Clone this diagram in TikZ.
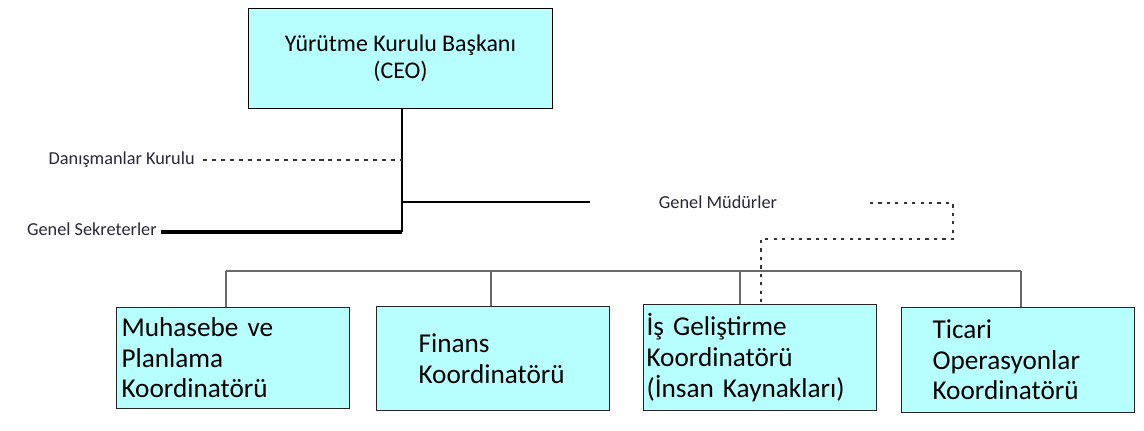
\documentclass[tikz,border=0pt]{standalone}
\usepackage{fontspec}
\setmainfont{Carlito}
\usetikzlibrary{positioning}
\definecolor{boxcyan}{RGB}{183,255,255}
\definecolor{busgray}{RGB}{105,105,105}
\definecolor{labeltext}{RGB}{40,40,55}
\tikzset{
  ceobox/.style={rectangle, draw=black, fill=boxcyan, line width=0.6pt,
    minimum width=6.08cm, minimum height=2cm, align=center,
    font=\fontsize{13.6}{15.5}\selectfont},
  coordbox/.style={rectangle, draw=black!85, fill=boxcyan, line width=0.6pt,
    align=left, inner ysep=0pt, anchor=north west,
    font=\fontsize{15.5}{17.4}\selectfont},
  sidelabel/.style={font=\fontsize{10.4}{12}\selectfont, text=labeltext, inner sep=0pt},
  trunk/.style={line width=0.6pt, color=black},
  bus/.style={line width=0.7pt, color=busgray},
  advisory/.style={line width=0.6pt, color=black!80, dash pattern=on 2.3pt off 2.8pt},
  staffline/.style={line width=0.6pt, color=black!80, dash pattern=on 1.8pt off 3pt}
}
\begin{document}
\begin{tikzpicture}[x=0.02cm, y=-0.02cm]
  \useasboundingbox (0,0) rectangle (1144,430);

  % Top box
  \node[ceobox, anchor=north west] (ceo) at (248,8) {Yürütme Kurulu Başkanı\\(CEO)};

  % Side labels
  \node[sidelabel, anchor=east] (dk) at (195,160) {Danışmanlar Kurulu};
  \node[sidelabel, anchor=east] (gs) at (157,229) {Genel Sekreterler};
  \node[sidelabel] (gm) at (718,202) {Genel Müdürler};

  % Coordinator boxes
  \node[coordbox, minimum height=2.02cm, text width=4.46cm, inner xsep=0.1cm] (m1) at (116,307)
    {Muhasebe ve\\Planlama\\Koordinatörü};
  \node[coordbox, minimum height=2.08cm, text width=2.98cm, inner xsep=0.84cm] (m2) at (376,306)
    {Finans\\Koordinatörü};
  \node[coordbox, minimum height=2.12cm, text width=4.54cm, inner xsep=0.06cm] (m3) at (643,304)
    {İş Geliştirme\\Koordinatörü\\(İnsan Kaynakları)};
  \node[coordbox, minimum height=2.1cm, text width=3.42cm, inner xsep=0.62cm] (m4) at (901,307)
    {Ticari\\Operasyonlar\\Koordinatörü};

  % Trunk from CEO
  \coordinate (tr) at (402,232);
  \draw[trunk] (ceo.south -| tr) -- (tr);
  \draw[advisory] ([xshift=0.16cm]dk.east) -- (dk.east -| tr);
  \draw[line width=1.8pt] ([xshift=0.08cm]gs.east |- tr) -- (tr);
  \coordinate (gml) at (590,202);
  \draw[trunk] (tr |- gml) -- (gml);

  % Dashed line from Genel Mudurler
  \coordinate (gmd) at (870,203);
  \coordinate (hr) at (761,239);
  \draw[staffline] (gmd) -| (953,239) -- (hr) -- (hr |- m3.north);

  % Bus to coordinators
  \coordinate (b1) at (226,271);
  \coordinate (b2) at (491,271);
  \coordinate (b3) at (740,271);
  \coordinate (b4) at (1021,271);
  \draw[bus] (b1) -- (b4);
  \foreach \b/\m in {b1/m1, b2/m2, b3/m3, b4/m4}
    \draw[bus] (\b) -- (\b |- \m.north);
\end{tikzpicture}
\end{document}
